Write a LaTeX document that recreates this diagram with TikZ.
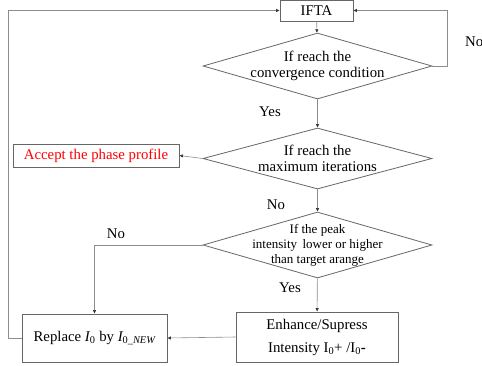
\documentclass[tikz,border=0pt]{standalone}
\usepackage{fontspec}
\setmainfont{Liberation Serif}
\usetikzlibrary{positioning, shapes.geometric, arrows.meta, calc}

\tikzset{
	process/.style={draw=black!60, line width=0.8pt, inner sep=0pt, align=center},
	decision/.style={diamond, draw=black!60, line width=0.8pt, inner sep=0pt, minimum width=229pt,
		label={[align=center, inner sep=0pt]center:#1}},
	flow/.style={draw=black!45, line width=0.6pt, -{Latex[length=3.5pt, width=3.5pt, black!80]}},
	lbl/.style={inner sep=0pt},
}

\begin{document}
\begin{tikzpicture}
		[x=1pt, y=-1pt, font=\fontsize{14.8}{16.5}\selectfont]
		\useasboundingbox (0,0) rectangle (482,365);
		\node[process, minimum width=73pt, minimum height=21pt] (ifta) at (316.5,10.5) {IFTA};
		\node[decision={If reach the\\convergence condition}, minimum height=66pt] (conv) at (317.5,66) {};
		\node[decision={If reach the\\maximum iterations}, minimum height=61pt] (maxit) at (317.5,158.5) {};
		\node[process, minimum width=166pt, minimum height=23pt, text=red] (accept) at (96,155.5)
			{Accept the phase profile};
		\node[decision={\fontsize{13}{15}\selectfont\begin{tabular}{@{}c@{}}
				If the peak\\intensity\, lower or higher\\than target arange\end{tabular}},
			minimum height=66pt] (peak) at (317.5,245) {};
		\node[process, minimum width=145pt, minimum height=48pt] (replace) at (94.5,338)
			{Replace {\itshape I}\textsubscript{0} by {\itshape I}\textsubscript{0\_\itshape NEW}};
		\node[process, minimum width=162pt, minimum height=50pt, font=\fontsize{14.8}{23}\selectfont] (enhance) at (317,337)
			{Enhance/Supress\\Intensity I\textsubscript{0}+ /I\textsubscript{0}\textbf{-}};

		% loop back corners
		\coordinate (rloop) at (447,10.5);
		\coordinate (lloop) at (8,10.5);

		\draw[flow] (ifta) -- (conv);
		\draw[flow] (conv.east) -| (rloop) -- (ifta.east);
		\draw[flow] (conv) -- (maxit);
		\draw[flow] (maxit.west) -- (accept.east);
		\draw[flow] (maxit) -- (peak);
		\draw[flow] (peak.west) -| (replace.north);
		\draw[flow] (peak) -- (enhance);
		\draw[flow] (enhance.west) -- (replace.east);
		\draw[flow] (replace.west) -| (lloop) -- (ifta.west);

		\node[lbl, anchor=west] (no1) at (465,42) {No};
		\node[lbl] (yes1) at (270,112) {Yes};
		\node[lbl] (no2) at (276,205) {No};
		\node[lbl] (no3) at (116,234) {No};
		\node[lbl] (yes2) at (290,288) {Yes};
	\end{tikzpicture}
\end{document}
